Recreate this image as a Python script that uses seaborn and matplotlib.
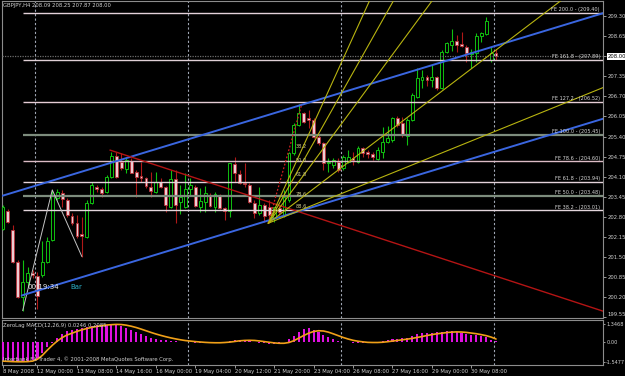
import numpy as np
import pandas as pd
import matplotlib
matplotlib.use("Agg")
import matplotlib.pyplot as plt
import matplotlib.transforms as mtransforms
import seaborn as sns

# ---------------- data ----------------
title_text = "GBPJPY,H4 208.09 208.25 207.87 208.00"
macd_title = "ZeroLag MACD(12,26,9) 0.0246 0.2085"
footer_text = "Interbank FX Trader 4, \u00a9 2001-2008 MetaQuotes Software Corp."

opens = [202.40, 203.00, 202.37, 201.35, 200.21, 200.70, 200.99, 200.88, 200.92, 201.35,
         202.05, 203.40, 203.58, 203.34, 202.83, 202.59, 202.24, 202.13, 203.23, 203.77,
         203.69, 203.61, 204.08, 204.77, 204.58, 204.34, 204.62, 204.24, 204.12, 204.06,
         203.77, 203.61, 203.91, 203.75, 203.12, 204.01, 203.29, 203.12, 203.69, 203.77,
         203.12, 203.29, 203.50, 203.12, 203.50, 203.07, 203.00, 204.51, 204.18, 203.90,
         203.83, 203.23, 202.91, 203.18, 203.12, 202.75, 203.07, 202.86, 203.34, 204.86,
         205.77, 206.15, 206.00, 205.93, 205.39, 205.18, 204.53, 204.48, 204.58, 204.37,
         204.58, 204.70, 204.57, 205.02, 204.91, 204.83, 204.66, 204.91, 205.23, 205.29,
         205.99, 205.83, 205.42, 205.93, 206.69, 207.23, 207.32, 207.23, 207.32, 206.96,
         208.15, 208.36, 208.49, 208.40, 208.31, 208.07, 208.09, 208.65, 208.72, 207.88,
         208.09]
highs = [203.18, 203.04, 202.54, 201.40, 201.40, 201.18, 201.08, 201.02, 202.00, 202.16,
         203.67, 203.69, 203.67, 203.40, 202.91, 202.86, 202.80, 203.34, 203.93, 203.83,
         203.77, 204.15, 204.91, 204.91, 204.86, 204.70, 204.69, 204.31, 204.58, 204.10,
         204.24, 204.24, 204.05, 203.80, 204.31, 204.31, 203.83, 204.21, 204.05, 203.83,
         203.72, 203.80, 203.56, 203.61, 203.53, 203.12, 204.55, 204.74, 204.31, 204.54,
         203.88, 203.34, 203.75, 203.24, 203.34, 203.12, 203.18, 203.67, 204.90, 205.83,
         206.45, 206.20, 206.26, 206.01, 205.45, 205.23, 204.69, 204.70, 204.69, 204.80,
         204.96, 204.90, 205.09, 205.07, 204.96, 204.91, 205.07, 205.72, 205.74, 206.04,
         206.06, 206.04, 205.99, 206.80, 207.61, 207.55, 207.39, 207.72, 207.36, 208.20,
         208.47, 208.87, 208.69, 208.79, 208.36, 208.22, 208.76, 208.79, 209.28, 208.31,
         208.25]
lows = [202.37, 202.61, 201.31, 200.16, 199.76, 200.53, 200.82, 199.80, 200.86, 201.29,
        202.00, 203.34, 203.12, 202.80, 202.54, 202.10, 201.51, 202.10, 203.21, 203.61,
        203.45, 203.56, 204.05, 204.05, 204.31, 204.21, 204.21, 203.45, 203.93, 203.72,
        203.45, 203.56, 203.72, 202.96, 203.07, 202.59, 202.89, 203.07, 203.50, 203.12,
        202.96, 202.96, 203.12, 202.96, 203.04, 202.70, 202.80, 203.93, 203.86, 203.77,
        203.23, 202.76, 202.86, 202.63, 202.59, 202.63, 202.86, 202.80, 203.29, 204.80,
        205.74, 205.83, 205.67, 205.34, 205.12, 204.31, 204.26, 204.38, 204.26, 204.31,
        204.53, 204.48, 204.53, 204.74, 204.69, 204.64, 204.64, 204.69, 205.18, 205.23,
        205.72, 205.39, 205.12, 205.91, 206.64, 206.96, 207.04, 206.99, 206.90, 206.93,
        208.09, 208.18, 208.15, 208.29, 207.82, 207.61, 207.82, 208.47, 208.69, 207.82,
        207.87]
closes = [203.12, 202.64, 201.35, 200.21, 200.70, 200.97, 200.92, 200.24, 201.35, 202.00,
          203.50, 203.61, 203.37, 202.86, 202.61, 202.18, 202.19, 203.23, 203.83, 203.69,
          203.58, 204.08, 204.77, 204.10, 204.37, 204.64, 204.23, 204.08, 204.05, 203.80,
          203.64, 203.93, 203.75, 203.17, 204.01, 203.18, 203.45, 203.69, 203.83, 203.15,
          203.31, 203.56, 203.15, 203.53, 203.07, 203.00, 204.53, 204.21, 203.90, 203.86,
          203.29, 202.91, 203.18, 202.83, 202.86, 203.11, 202.96, 203.45, 204.86, 205.77,
          206.15, 205.88, 205.93, 205.39, 205.18, 204.53, 204.58, 204.64, 204.31, 204.73,
          204.74, 204.64, 205.02, 204.88, 204.83, 204.72, 204.96, 205.23, 205.34, 205.99,
          205.77, 205.45, 205.93, 206.74, 207.29, 207.32, 207.23, 207.34, 206.96, 208.15,
          208.42, 208.50, 208.36, 208.34, 208.09, 208.15, 208.65, 208.74, 209.15, 208.09,
          208.00]

macd_hist = [-1.40, -1.45, -1.50, -1.55, -1.53, -1.50, -1.45, -1.30, -0.85, -0.40,
             -0.12, 0.25, 0.60, 0.80, 0.90, 1.00, 1.05, 1.15, 1.22, 1.28,
             1.32, 1.33, 1.32, 1.28, 1.20, 1.05, 0.90, 0.75, 0.60, 0.45,
             0.30, 0.22, 0.15, 0.10, 0.06, 0.03, 0.00, -0.02, -0.05, -0.08,
             -0.10, -0.12, -0.12, -0.10, -0.08, -0.05, 0.08, 0.15, 0.15, 0.10,
             0.05, -0.02, -0.08, -0.12, -0.15, -0.15, -0.12, -0.05, 0.20, 0.45,
             0.77, 0.95, 1.03, 0.90, 0.77, 0.52, 0.34, 0.18, 0.08, 0.00,
             -0.05, -0.08, -0.08, -0.08, -0.08, -0.06, -0.04, 0.05, 0.10, 0.18,
             0.22, 0.26, 0.30, 0.44, 0.59, 0.64, 0.70, 0.70, 0.77, 0.77,
             0.85, 0.85, 0.77, 0.70, 0.59, 0.52, 0.52, 0.44, 0.35, 0.15,
             0.02]
macd_signal = [-1.50, -1.52, -1.54, -1.55, -1.55, -1.54, -1.50, -1.35, -1.05, -0.65,
               -0.28, 0.05, 0.32, 0.52, 0.66, 0.80, 0.92, 1.02, 1.11, 1.18,
               1.24, 1.29, 1.32, 1.34, 1.33, 1.28, 1.20, 1.10, 0.98, 0.85,
               0.72, 0.60, 0.49, 0.39, 0.30, 0.22, 0.15, 0.09, 0.05, 0.01,
               -0.02, -0.05, -0.07, -0.08, -0.08, -0.06, -0.03, 0.02, 0.07, 0.10,
               0.11, 0.10, 0.06, 0.01, -0.04, -0.09, -0.12, -0.12, -0.06, 0.08,
               0.28, 0.48, 0.66, 0.79, 0.85, 0.83, 0.74, 0.61, 0.47, 0.33,
               0.21, 0.11, 0.04, -0.01, -0.05, -0.06, -0.06, -0.04, 0.00, 0.05,
               0.10, 0.15, 0.20, 0.26, 0.33, 0.40, 0.48, 0.55, 0.61, 0.66,
               0.71, 0.74, 0.76, 0.75, 0.72, 0.67, 0.62, 0.55, 0.47, 0.36,
               0.21]

price_ticks = [209.30, 208.65, 208.00, 207.35, 206.70, 206.05, 205.40, 204.75,
               204.10, 203.45, 202.80, 202.15, 201.50, 200.85, 200.20, 199.55]
bid_price = 208.00
macd_ticks = [1.3468, 0.0, -1.5477]
macd_tick_labels = ["1.3468", "0.00", "-1.5477"]
time_tick_bars = [0, 7, 15, 23, 31, 39, 47, 55, 63, 71, 79, 87, 95]
time_tick_labels = ["8 May 2008", "12 May 00:00", "13 May 08:00", "14 May 16:00",
                    "16 May 00:00", "19 May 04:00", "20 May 12:00", "21 May 20:00",
                    "23 May 04:00", "26 May 08:00", "27 May 16:00", "29 May 00:00",
                    "30 May 08:00"]
week_start_bars = [7, 38, 69, 100]

fe_pct = ["200.0", "161.8", "127.2", "100.0", "78.6", "61.8", "50.0", "38.2"]
fe_val = [209.40, 207.89, 206.52, 205.45, 204.60, 203.94, 203.48, 203.01]
zigzag_bars = [4, 10, 16]
zigzag_prices = [199.76, 203.67, 201.51]

fan_bars = [53.8, 60.6]
fan_prices = [202.59, 206.45]
fan_levels = [0.382, 0.5, 0.618, 0.786, 0.886]
fan_labels = ["38.2", "50.0", "61.8", "78.6", "88.6"]

channel_bars = [3.8, 76.5]
channel_prices = [200.25, 203.78]
channel_width = 3.42

red_bars = [21.7, 108.9]
red_prices = [204.96, 200.41]

timer_text = "00:19:34"
bar_text = "Bar"

# ---------------- style ----------------
sns.set_theme(style="dark", rc={"axes.facecolor": "black", "figure.facecolor": "black"})
plt.rcParams["font.family"] = ["DejaVu Sans"]

W, H = 625, 376
fig = plt.figure(figsize=(W / 100, H / 100), dpi=100, facecolor="black")
ax = fig.add_axes([2 / W, (H - 318) / H, 601 / W, 317 / H])
axm = fig.add_axes([2 / W, (H - 365) / H, 601 / W, 45 / H])

XMIN, XMAX = -0.2, 121.7
TXT = "#d2d2d2"
GREEN = "#10c010"
RED_WICK = "#b01818"
FS = 3.8

for a in (ax, axm):
    a.set_facecolor("black")
    a.grid(False)
    for s in a.spines.values():
        s.set_color("#8c8c8c")
        s.set_linewidth(0.8)

# ---------------- candles ----------------
o = np.array(opens); h = np.array(highs); l = np.array(lows); c = np.array(closes)
idx = np.arange(len(o))
bull = c >= o
ax.vlines(idx[bull], l[bull], h[bull], color=GREEN, lw=0.8, zorder=3)
ax.vlines(idx[~bull], l[~bull], h[~bull], color=RED_WICK, lw=0.8, zorder=3)
body = np.maximum(np.abs(c - o), 0.015)
bottom = np.minimum(o, c)
ax.bar(idx[bull], body[bull], bottom=bottom[bull], width=0.58, facecolor="black",
       edgecolor=GREEN, linewidth=0.7, zorder=4)
ax.bar(idx[~bull], body[~bull], bottom=bottom[~bull], width=0.58, facecolor="#ecccd2",
       edgecolor="#b83038", linewidth=0.6, zorder=4)

# ---------------- objects ----------------
fe_colors = ["#e4d2da", "#e0d0d6", "#e6cdd6", "#7d8c7d", "#dcbcc6", "#e4d2da", "#7d8c7d", "#e4d6dc"]
fe_lw = [1.0, 1.0, 1.0, 1.6, 1.0, 1.0, 1.6, 1.0]
blend = mtransforms.blended_transform_factory(ax.transAxes, ax.transData)
for val, pct, col, lw in zip(fe_val, fe_pct, fe_colors, fe_lw):
    ax.hlines(val, zigzag_bars[0], XMAX + 5, color=col, lw=lw, zorder=6)
    ax.text(0.995, val + 0.02, f"FE {pct} - ({val:.2f})", color="#d8d8d8", fontsize=3.6,
            ha="right", va="bottom", transform=blend, zorder=8)

ax.axhline(bid_price, color="#6c6c6c", lw=0.9, ls=(0, (1, 1)), zorder=5)

ax.plot(zigzag_bars, zigzag_prices, color="#c4c4c4", lw=0.7, zorder=6)

slope = (channel_prices[1] - channel_prices[0]) / (channel_bars[1] - channel_bars[0])
xs_low = np.array([channel_bars[0], XMAX + 5])
ax.plot(xs_low, channel_prices[0] + slope * (xs_low - channel_bars[0]), color="#3a66e0", lw=1.4, zorder=6)
xs_up = np.array([XMIN - 5, XMAX + 5])
ax.plot(xs_up, channel_prices[0] + channel_width + slope * (xs_up - channel_bars[0]),
        color="#3a66e0", lw=1.4, zorder=6)

rs = (red_prices[1] - red_prices[0]) / (red_bars[1] - red_bars[0])
xs_r = np.array([red_bars[0], XMAX + 5])
ax.plot(xs_r, red_prices[0] + rs * (xs_r - red_bars[0]), color="#b41414", lw=1.0, zorder=6)

fx0, fx1 = fan_bars
fp0, fp1 = fan_prices
ax.plot([fx0, fx1], [fp0, fp1], color="#d02020", lw=0.9, ls=(0, (1.5, 1.5)), zorder=6)
for lev, lab in zip(fan_levels, fan_labels):
    target = fp1 - lev * (fp1 - fp0)
    s = (target - fp0) / (fx1 - fx0)
    xe = np.array([fx0, XMAX + 5])
    ax.plot(xe, fp0 + s * (xe - fx0), color="#b8b410", lw=0.8, zorder=6)
    ax.text(fx1 - 1.2, target + 0.02, lab, color="#cfcb8c", fontsize=3.6,
            ha="left", va="bottom", zorder=8)

ax.text(4.9, 200.53, timer_text, color="#e6e6e6", fontsize=5, va="center", zorder=7)
ax.text(13.6, 200.53, bar_text, color="#2cb0c8", fontsize=5, va="center", zorder=7)

for a in (ax, axm):
    for b in week_start_bars:
        a.axvline(b - 0.5, color="#a0a6b4", lw=0.8, ls=(0, (2, 2)), zorder=2)

ax.set_xlim(XMIN, XMAX)
ax.set_ylim(199.52, 209.79)
ax.set_xticks([])
ax.yaxis.tick_right()
ax.set_yticks(price_ticks)
ax.set_yticklabels([f"{v:.2f}" for v in price_ticks])
ax.tick_params(axis="y", right=True, length=2, width=0.7, color="#9a9a9a", pad=1.5,
               labelsize=FS, labelcolor=TXT)
for t in ax.get_yticklabels():
    if t.get_text() == f"{bid_price:.2f}":
        t.set_color("black")
        t.set_bbox(dict(facecolor="white", edgecolor="none", pad=0.8))
    if t.get_text() == f"{price_ticks[-1]:.2f}":
        t.set_va("bottom")

# ---------------- MACD ----------------
df = pd.DataFrame({"bar": idx, "macd": macd_hist, "signal": macd_signal})
sns.barplot(data=df, x="bar", y="macd", native_scale=True, color="#e010e0", saturation=1,
            width=0.42, errorbar=None, ax=axm, zorder=3, edgecolor="none", linewidth=0)
sns.lineplot(data=df, x="bar", y="signal", color="#f0a018", lw=1.2, ax=axm, zorder=4)
axm.set_xlabel("")
axm.set_ylabel("")
axm.set_xlim(XMIN, XMAX)
axm.set_ylim(-1.80, 1.68)
axm.yaxis.tick_right()
axm.set_yticks(macd_ticks)
axm.set_yticklabels(macd_tick_labels)
axm.tick_params(axis="y", right=True, length=1.5, width=0.7, color="#9a9a9a", pad=0.8,
                labelsize=3.6, labelcolor=TXT)
axm.set_xticks(time_tick_bars)
axm.set_xticklabels(time_tick_labels)
axm.tick_params(axis="x", bottom=True, length=2, width=0.7, color="#9a9a9a", pad=1.2,
                labelsize=FS, labelcolor=TXT)
for t in axm.get_xticklabels():
    t.set_ha("left")

fig.text(3 / W, 1 - 6 / H, title_text, color=TXT, fontsize=FS, va="center", ha="left")
fig.text(3 / W, 1 - 326 / H, macd_title, color=TXT, fontsize=FS, va="center", ha="left")
fig.text(3 / W, 1 - 359 / H, footer_text, color=TXT, fontsize=FS, va="center", ha="left")

fig.savefig("out.png", dpi=100, facecolor="black")
